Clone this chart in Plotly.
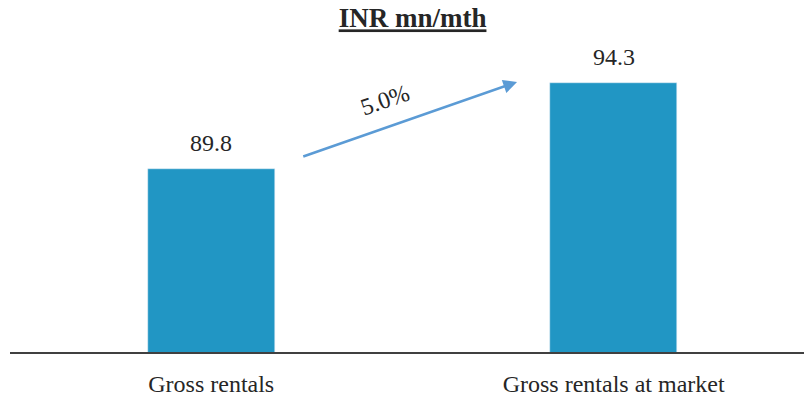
import plotly.graph_objects as go

categories = ["Gross rentals", "Gross rentals at market"]
values = [89.8, 94.3]
value_labels = ["89.8", "94.3"]
growth_label = "5.0%"
title_text = "INR mn/mth"

font_family = "Liberation Serif"
text_color = "#262626"
bar_color = "#2196C4"
arrow_color = "#5B9BD5"

fig = go.Figure()
fig.add_trace(go.Bar(
    x=[0, 1], y=values, width=0.316, marker_color=bar_color,
    hoverinfo="skip", showlegend=False,
))

# value labels above bars
for i, (v, t) in enumerate(zip(values, value_labels)):
    fig.add_annotation(x=i, y=v, text=t, showarrow=False, yanchor="bottom",
                       yshift=11, font=dict(family=font_family, size=24, color=text_color))

# growth arrow between the two bars
fig.add_annotation(x=0.76, y=94.38, ax=0.225, ay=90.41, xref="x", yref="y",
                   axref="x", ayref="y", showarrow=True, arrowhead=2,
                   arrowsize=1.1, arrowwidth=2.5, arrowcolor=arrow_color, text="")
fig.add_annotation(x=0.432, y=93.43, text=growth_label, showarrow=False,
                   textangle=-19, font=dict(family=font_family, size=24, color=text_color))

fig.update_layout(
    width=804, height=398,
    font=dict(family=font_family, color=text_color),
    margin=dict(l=10, r=0, t=40, b=46, autoexpand=False),
    paper_bgcolor="white", plot_bgcolor="white",
    title=dict(text=f"<b><u>{title_text}</u></b>", x=0.507, xref="paper",
               xanchor="center", y=0.955, yanchor="middle",
               font=dict(family=font_family, size=27, color=text_color)),
    xaxis=dict(tickmode="array", tickvals=[0, 1], ticktext=categories,
               range=[-0.5, 1.473], showline=True, linecolor="#404040", linewidth=2,
               ticks="outside", ticklen=9, tickcolor="rgba(0,0,0,0)",
               showgrid=False, zeroline=False, automargin=False,
               tickfont=dict(family=font_family, size=24, color=text_color)),
    yaxis=dict(range=[80.1, 96.6], visible=False, showgrid=False, zeroline=False,
               automargin=False),
    bargap=0,
)

fig.write_html("out.html", config={"displayModeBar": False},
               post_script="document.body.style.margin='0';")
